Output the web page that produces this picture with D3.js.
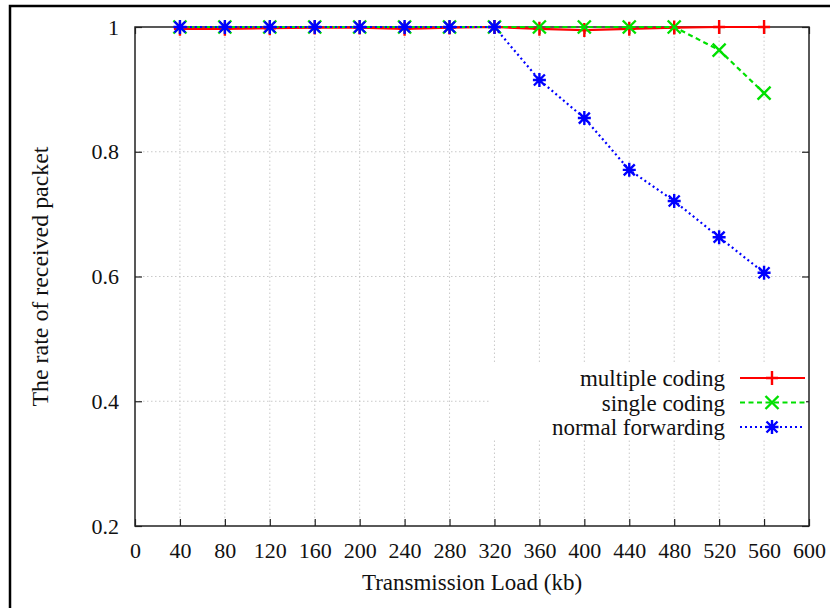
<!DOCTYPE html>
<html>
<head>
<meta charset="utf-8">
<script src="https://cdn.jsdelivr.net/npm/d3@7"></script>
<style>
  html, body { margin: 0; padding: 0; background: #fff; }
  svg { display: block; }
  text { font-family: "Liberation Serif", "DejaVu Serif", serif; fill: #111; }
</style>
</head>
<body>
<svg id="chart" width="830" height="608"></svg>
<script>
// ---- data ----
const loads = [40, 80, 120, 160, 200, 240, 280, 320, 360, 400, 440, 480, 520, 560];
const multipleCoding = [0.997, 0.997, 0.998, 0.999, 0.999, 0.997, 0.999, 1.0, 0.997, 0.995, 0.997, 0.999, 1.0, 1.0];
const singleCoding   = [1.0, 1.0, 1.0, 1.0, 1.0, 1.0, 1.0, 1.0, 1.0, 1.0, 1.0, 1.0, 0.963, 0.894];
const normalForwarding = [1.0, 1.0, 1.0, 1.0, 1.0, 1.0, 1.0, 1.0, 0.915, 0.854, 0.771, 0.721, 0.663, 0.606];
const seriesNames = ["multiple coding", "single coding", "normal forwarding"];
const xTicks = [0, 40, 80, 120, 160, 200, 240, 280, 320, 360, 400, 440, 480, 520, 560, 600];
const yTicks = [0.2, 0.4, 0.6, 0.8, 1];
const xTitle = "Transmission Load (kb)";
const yTitle = "The rate of received packet";

// ---- layout ----
const svg = d3.select("#chart");
const L = 135, R = 809, T = 27, B = 526;
const x = d3.scaleLinear().domain([0, 600]).range([L, R]);
const y = d3.scaleLinear().domain([0.2, 1]).range([B, T]);

// outer frame
svg.append("path").attr("d", `M10,${608+5} L10,6 L${830+5},6`)
  .attr("fill", "none").attr("stroke", "#000").attr("stroke-width", 2.5);

// grid
const grid = svg.append("g");
grid.selectAll("line.gx").data(xTicks.filter(d => d > 0 && d < 600)).join("line")
  .attr("x1", d => x(d)).attr("x2", d => x(d)).attr("y1", B).attr("y2", T)
  .attr("stroke", "#bbb").attr("stroke-width", 0.8).attr("stroke-dasharray", "1.5,2.5");
grid.selectAll("line.gy").data(yTicks.filter(d => d > 0.2 && d < 1)).join("line")
  .attr("x1", L).attr("x2", R).attr("y1", d => y(d)).attr("y2", d => y(d))
  .attr("stroke", "#bbb").attr("stroke-width", 0.8).attr("stroke-dasharray", "1.5,2.5");

// axes (inward ticks, mirrored)
const fs = 22;
const axB = svg.append("g").attr("transform", `translate(0,${B})`)
  .call(d3.axisBottom(x).tickValues(xTicks).tickSize(-7).tickPadding(16).tickFormat(d3.format("d")));
const axT = svg.append("g").attr("transform", `translate(0,${T})`)
  .call(d3.axisTop(x).tickValues(xTicks).tickSize(-7).tickFormat(""));
const axL = svg.append("g").attr("transform", `translate(${L},0)`)
  .call(d3.axisLeft(y).tickValues(yTicks).tickSize(-7).tickPadding(16).tickFormat(d => d === 1 ? "1" : d3.format(".1f")(d)));
const axR = svg.append("g").attr("transform", `translate(${R},0)`)
  .call(d3.axisRight(y).tickValues(yTicks).tickSize(-7).tickFormat(""));
[axB, axT, axL, axR].forEach(a => {
  a.select(".domain").remove();
  a.selectAll("line").attr("stroke", "#222").attr("stroke-width", 1.2);
  a.selectAll("text").attr("font-size", fs).attr("font-family", "Liberation Serif").attr("fill", "#111");
});
axB.selectAll("text").attr("dy", "0.71em");

// plot border
svg.append("rect").attr("x", L).attr("y", T).attr("width", R - L).attr("height", B - T)
  .attr("fill", "none").attr("stroke", "#222").attr("stroke-width", 1.5);

// axis titles
svg.append("text").attr("x", (L + R) / 2).attr("y", 590).attr("text-anchor", "middle")
  .attr("font-size", 23).text(xTitle);
svg.append("text").attr("transform", `translate(48,${(T + B) / 2}) rotate(-90)`)
  .attr("text-anchor", "middle").attr("font-size", 23)
  .attr("textLength", 260).attr("lengthAdjust", "spacingAndGlyphs").text(yTitle);

// markers
function plusPath(cx, cy) { return `M${cx-6},${cy}H${cx+6}M${cx},${cy-7}V${cy+7}`; }
function crossPath(cx, cy) { const s = 6.5; return `M${cx-s},${cy-s}L${cx+s},${cy+s}M${cx-s},${cy+s}L${cx+s},${cy-s}`; }
function starPath(cx, cy) { return plusPath(cx, cy) + crossPath(cx, cy).replace(/6\.5/g, "5.5"); }
function starP(cx, cy) { const s = 5.5; return `M${cx-6.5},${cy}H${cx+6.5}M${cx},${cy-7}V${cy+7}M${cx-s},${cy-s}L${cx+s},${cy+s}M${cx-s},${cy+s}L${cx+s},${cy-s}`; }

const series = [
  { name: seriesNames[0], values: multipleCoding, color: "#ff0000", dash: null, marker: plusPath },
  { name: seriesNames[1], values: singleCoding, color: "#00e000", dash: "5,3.5", marker: crossPath },
  { name: seriesNames[2], values: normalForwarding, color: "#0000ff", dash: "2,3", marker: starP }
];

const line = d3.line().x(d => x(d[0])).y(d => y(d[1]));
const plot = svg.append("g");
series.forEach(s => {
  const pts = loads.map((l, i) => [l, s.values[i]]);
  plot.append("path").datum(pts).attr("d", line).attr("fill", "none")
    .attr("stroke", s.color).attr("stroke-width", 2.2)
    .attr("stroke-dasharray", s.dash);
  plot.append("g").selectAll("path").data(pts).join("path")
    .attr("d", d => s.marker(x(d[0]), y(d[1])))
    .attr("fill", "none").attr("stroke", s.color).attr("stroke-width", 2.4);
});

// legend
const lg = svg.append("g");
lg.append("rect").attr("x", 490).attr("y", 364).attr("width", 316).attr("height", 76).attr("fill", "#fff");
series.forEach((s, i) => {
  const yy = 378 + i * 24.5;
  lg.append("text").attr("x", 725).attr("y", yy).attr("dy", "0.35em").attr("text-anchor", "end")
    .attr("font-size", 23).text(s.name);
  lg.append("line").attr("x1", 740).attr("x2", 805).attr("y1", yy).attr("y2", yy)
    .attr("stroke", s.color).attr("stroke-width", 2.2).attr("stroke-dasharray", s.dash);
  lg.append("path").attr("d", s.marker(772, yy)).attr("fill", "none")
    .attr("stroke", s.color).attr("stroke-width", 2.4);
});
</script>
</body>
</html>
